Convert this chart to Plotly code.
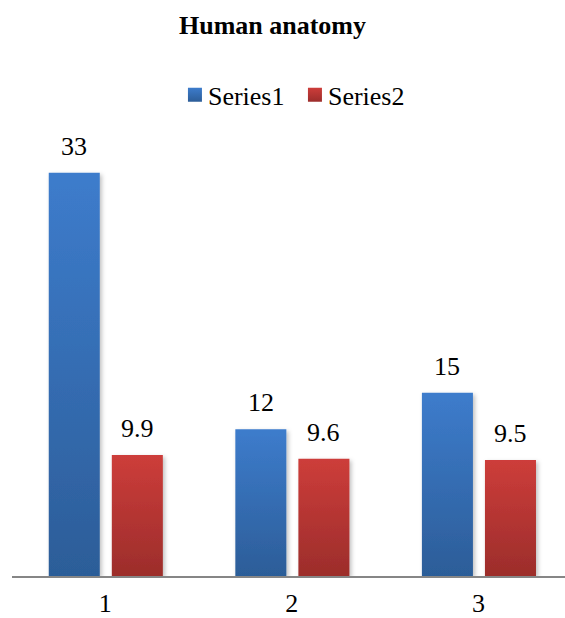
import plotly.graph_objects as go

# Chart data
categories = ["1", "2", "3"]
series_names = ["Series1", "Series2"]
series1 = [33, 12, 15]
series2 = [9.9, 9.6, 9.5]

FONT = "Liberation Serif"
BLUE = "#3569B3"
RED = "#B73533"

# bar geometry in category units
BAR_W = 0.2735
OFFSETS = [-0.303, 0.035]

fig = go.Figure()
for name, vals, color, off in zip(series_names, [series1, series2], [BLUE, RED], OFFSETS):
    fig.add_trace(go.Bar(
        name=name, x=categories, y=vals,
        width=BAR_W, offset=off,
        marker=dict(color=color, line=dict(width=0)),
        hoverinfo="x+y+name",
    ))

# value labels above each bar
annotations = []
for vals, off in zip([series1, series2], OFFSETS):
    for i, v in enumerate(vals):
        annotations.append(dict(
            x=i + off + BAR_W / 2, y=v, xref="x", yref="y",
            text=f"{v:g}", showarrow=False,
            yanchor="bottom", xanchor="center", yshift=10,
            font=dict(family=FONT, size=26, color="#000000"),
        ))

fig.update_layout(
    width=565, height=618,
    margin=dict(l=12, r=0, t=136, b=42, autoexpand=False),
    paper_bgcolor="white", plot_bgcolor="white",
    font=dict(family=FONT, size=26, color="#000000"),
    title=dict(
        text="Human anatomy",
        font=dict(family=FONT, size=26, color="#000000", weight=700),
        x=272.5 / 565, xref="container", xanchor="center",
        y=1 - 25 / 618, yref="container", yanchor="middle",
    ),
    showlegend=True,
    legend=dict(
        orientation="h", x=0.282, xanchor="left",
        y=1.147, yanchor="top",
        font=dict(family=FONT, size=26, color="#000000"),
        itemwidth=30, tracegroupgap=0,
        entrywidth=75, entrywidthmode="pixels",
    ),
    xaxis=dict(
        type="category", range=[-0.5, 2.464], automargin=False,
        showline=True, linecolor="#868686", linewidth=2,
        showgrid=False, zeroline=False, ticks="",
        tickfont=dict(family=FONT, size=26, color="#000000"),
        ticklabelstandoff=3,
    ),
    yaxis=dict(range=[0, 36], visible=False, showgrid=False, zeroline=False,
               automargin=False),
    annotations=annotations,
    bargap=0.2,
)

# vertical gradient fills and a soft shadow for the bars; larger legend swatches
post = """
var gd = document.getElementById('{plot_id}');
var ns = 'http://www.w3.org/2000/svg';
var svg = gd.querySelector('.main-svg');
var defs = svg.querySelector('defs');
function grad(id, top, bottom) {
  var g = document.createElementNS(ns, 'linearGradient');
  g.setAttribute('id', id);
  g.setAttribute('x1', '0'); g.setAttribute('y1', '0');
  g.setAttribute('x2', '0'); g.setAttribute('y2', '1');
  [[0, top], [1, bottom]].forEach(function (s) {
    var st = document.createElementNS(ns, 'stop');
    st.setAttribute('offset', s[0]);
    st.setAttribute('stop-color', s[1]);
    g.appendChild(st);
  });
  defs.appendChild(g);
}
grad('gradS1', '#3D7CCC', '#2C5D98');
grad('gradS2', '#CD3D3A', '#9C2D2B');
var f = document.createElementNS(ns, 'filter');
f.setAttribute('id', 'barShadow');
f.setAttribute('x', '-20%'); f.setAttribute('y', '-20%');
f.setAttribute('width', '150%'); f.setAttribute('height', '150%');
var ds = document.createElementNS(ns, 'feDropShadow');
ds.setAttribute('dx', '2'); ds.setAttribute('dy', '2');
ds.setAttribute('stdDeviation', '2');
ds.setAttribute('flood-color', '#000000');
ds.setAttribute('flood-opacity', '0.25');
f.appendChild(ds);
defs.appendChild(f);
var ids = ['gradS1', 'gradS2'];
gd.querySelectorAll('.barlayer .trace').forEach(function (t, i) {
  t.querySelectorAll('path').forEach(function (p) {
    p.style.fill = 'url(#' + ids[i] + ')';
    p.style.filter = 'url(#barShadow)';
  });
});
gd.querySelectorAll('.legend .traces').forEach(function (t, i) {
  t.querySelectorAll('.legendpoints path').forEach(function (p) {
    p.setAttribute('d', 'M14,7H0V-7H14Z');
    p.style.fill = 'url(#' + ids[i] + ')';
  });
});
"""

fig.write_html("out.html", post_script=post)
